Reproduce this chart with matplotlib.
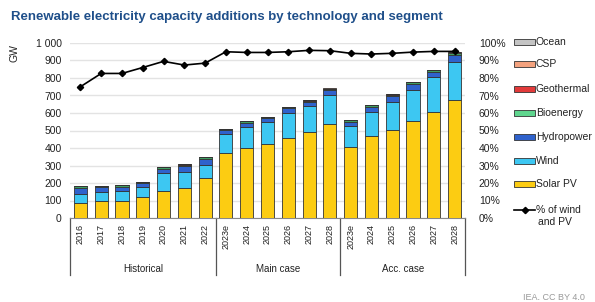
import matplotlib
matplotlib.use("Agg")
import matplotlib.pyplot as plt
from matplotlib.patches import Rectangle
from matplotlib.lines import Line2D
import numpy as np

plt.rcParams['font.family'] = ['Liberation Sans', 'DejaVu Sans']

years = ["2016", "2017", "2018", "2019", "2020", "2021", "2022",
         "2023e", "2024", "2025", "2026", "2027", "2028",
         "2023e", "2024", "2025", "2026", "2027", "2028"]
groups = ["Historical", "Main case", "Acc. case"]
group_sizes = [7, 6, 6]

solar_pv = [86, 99, 99, 118, 153, 172, 226, 373, 402, 421, 459, 493, 539, 407, 468, 501, 553, 608, 675]
wind = [52, 48, 54, 58, 105, 92, 76, 109, 118, 128, 143, 148, 165, 119, 140, 162, 179, 195, 218]
hydropower = [36, 28, 26, 22, 24, 31, 37, 20, 25, 21, 24, 23, 27, 24, 29, 33, 34, 32, 38]
bioenergy = [9, 8, 8, 8, 9, 10, 8, 7, 7, 7, 7, 7, 7, 8, 9, 9, 10, 10, 12]
geothermal = [1, 1, 1, 1, 0.5, 1, 0.5, 1, 1, 1, 1, 1, 1, 1, 1, 1, 1, 1, 1]
csp = [0.5, 0.5, 1, 0.5, 0.2, 0.1, 0.2, 0.5, 1, 1, 1, 1, 1, 1, 1, 1, 1, 1, 2]
ocean = [0, 0, 0, 0, 0, 0, 0, 0, 0, 0, 0, 0, 0, 0, 0, 0, 0, 0, 0]
share_wind_pv = [75, 82.6, 82.6, 86, 89.5, 87.4, 88.5, 95, 94.6, 94.6, 95, 95.8, 95.6,
                 94.1, 93.7, 94.1, 94.8, 95.2, 95.2]

series = [("Solar PV", solar_pv, "#fccc12"),
          ("Wind", wind, "#3dc7f2"),
          ("Hydropower", hydropower, "#2f62cc"),
          ("Bioenergy", bioenergy, "#3f9e62"),
          ("Geothermal", geothermal, "#e23a3a"),
          ("CSP", csp, "#f4a27e"),
          ("Ocean", ocean, "#c4c4c4")]

fig = plt.figure(figsize=(5.95, 3.02), dpi=100)
ax = fig.add_axes([70/595, 1-218/302, 395/595, 175/302])
x = np.arange(len(years))
bottom = np.zeros(len(years))
for name, vals, col in series:
    v = np.array(vals, dtype=float)
    ax.bar(x, v, 0.63, bottom=bottom, color=col, edgecolor="#333333", linewidth=0.6, zorder=3)
    bottom += v

ax.set_xlim(-0.5, len(years) - 0.5)
ax.set_ylim(0, 1000)
ax.set_yticks(np.arange(0, 1001, 100))
ax.set_yticklabels(["1 000" if t == 1000 else str(t) for t in range(0, 1001, 100)])
ax.grid(axis="y", color="#e3e3e3", linewidth=1.0, zorder=0)
ax.set_axisbelow(True)
for s in ["top", "right", "left"]:
    ax.spines[s].set_visible(False)
ax.spines["bottom"].set_color("#888888")
ax.tick_params(axis="y", length=0, labelsize=7.5, pad=6, colors="#222222")
ax.set_xticks(x)
ax.set_xticklabels(years, rotation=90, fontsize=6.5, color="#222222")
ax.tick_params(axis="x", length=0, pad=4)
ax.set_ylabel("GW", fontsize=7.5, color="#222222")
ax.yaxis.set_label_coords(-0.128, 0.945)

ax2 = ax.twinx()
ax2.set_ylim(0, 100)
ax2.set_yticks(np.arange(0, 101, 10))
ax2.set_yticklabels([f"{t}%" for t in range(0, 101, 10)])
ax2.tick_params(axis="y", length=0, labelsize=7.5, pad=10, colors="#222222")
for s in ["top", "right", "left", "bottom"]:
    ax2.spines[s].set_visible(False)
ax2.plot(x, share_wind_pv, color="black", marker="D", markersize=3.2, linewidth=1.2, zorder=5)

# group separators and labels
trans = ax.get_xaxis_transform()
edges = [-0.5]
for n in group_sizes:
    edges.append(edges[-1] + n)
for e in edges:
    ax.plot([e, e], [0, -0.326], transform=trans, color="#555555", linewidth=0.9, clip_on=False)
for i, g in enumerate(groups):
    mid = (edges[i] + edges[i + 1]) / 2
    ax.text(mid, -0.29, g, transform=trans, ha="center", va="center", fontsize=7, color="#222222")

# legend
leg_items = [("Ocean", "#c4c4c4"), ("CSP", "#f4a27e"), ("Geothermal", "#e23a3a"),
             ("Bioenergy", "#5fd68e"), ("Hydropower", "#2f62cc"), ("Wind", "#3dc7f2"),
             ("Solar PV", "#fccc12")]
ys = [42, 64, 89, 113, 137, 161, 184]
for (lab, col), yy in zip(leg_items, ys):
    fig.patches.append(Rectangle((514/595, 1-(yy+3)/302), 21/595, 6/302, transform=fig.transFigure,
                                 facecolor=col, edgecolor="#333333", linewidth=0.6))
    fig.text(536/595, 1-yy/302, lab, fontsize=7.5, va="center", ha="left", color="#222222")
fig.lines.append(Line2D([514/595, 535/595], [1-210/302, 1-210/302], transform=fig.transFigure,
                        color="black", linewidth=1.2))
fig.lines.append(Line2D([524.5/595], [1-210/302], transform=fig.transFigure,
                        color="black", marker="D", markersize=3.2, linestyle="none"))
fig.text(536/595, 1-210/302, "% of wind", fontsize=7.5, va="center", ha="left", color="#222222")
fig.text(538/595, 1-222/302, "and PV", fontsize=7.5, va="center", ha="left", color="#222222")

fig.text(11/595, 1-17/302, "Renewable electricity capacity additions by technology and segment",
         fontsize=9.5, fontweight="bold", color="#1f4f8a", va="center", ha="left")
fig.text(523/595, 1-297/302, "IEA. CC BY 4.0", fontsize=6.5, color="#999999", va="center", ha="left")

fig.savefig("out.png", dpi=100)
